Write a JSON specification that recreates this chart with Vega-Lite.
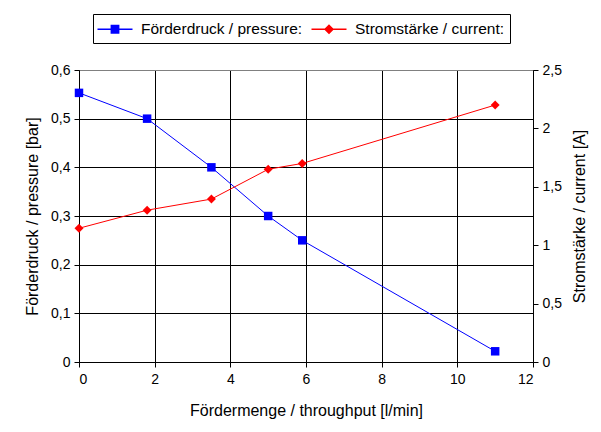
{
  "$schema": "https://vega.github.io/schema/vega-lite/v6.json",
  "width": 454,
  "height": 292,
  "autosize": {"type": "none"},
  "padding": {"left": 79, "top": 70, "right": 68, "bottom": 70},
  "background": "white",
  "config": {
    "font": "Liberation Sans",
    "view": {"stroke": "#808080", "strokeWidth": 1},
    "axis": {
      "labelFont": "Liberation Sans",
      "titleFont": "Liberation Sans",
      "labelFontSize": 14,
      "titleFontSize": 16,
      "titleFontWeight": "normal",
      "labelColor": "black",
      "titleColor": "black",
      "domainColor": "black",
      "tickColor": "black",
      "tickSize": 5,
      "gridColor": "black",
      "gridOpacity": 1,
      "gridWidth": 1
    },
    "legend": {
      "labelFont": "Liberation Sans",
      "labelFontSize": 15.5,
      "labelColor": "black",
      "labelLimit": 400
    }
  },
  "datasets": {
    "pressure": [
      {"throughput": 0, "pressure": 0.553},
      {"throughput": 1.8, "pressure": 0.5},
      {"throughput": 3.5, "pressure": 0.4},
      {"throughput": 5, "pressure": 0.3},
      {"throughput": 5.9, "pressure": 0.25},
      {"throughput": 11, "pressure": 0.022}
    ],
    "current": [
      {"throughput": 0, "current": 1.145},
      {"throughput": 1.8, "current": 1.3},
      {"throughput": 3.5, "current": 1.395},
      {"throughput": 5, "current": 1.65},
      {"throughput": 5.9, "current": 1.7},
      {"throughput": 11, "current": 2.2}
    ]
  },
  "layer": [
    {
      "data": {"name": "pressure"},
      "mark": {"type": "line", "strokeWidth": 1, "point": {"shape": "square", "size": 72, "filled": true, "opacity": 1}},
      "encoding": {
        "x": {
          "field": "throughput", "type": "quantitative",
          "scale": {"domain": [0, 12], "nice": false},
          "axis": {
            "values": [0, 2, 4, 6, 8, 10, 12],
            "title": "Fördermenge / throughput [l/min]",
            "labelPadding": 5,
            "titlePadding": 16,
            "grid": true
          }
        },
        "y": {
          "field": "pressure", "type": "quantitative",
          "scale": {"domain": [0, 0.6], "nice": false},
          "axis": {
            "values": [0, 0.1, 0.2, 0.3, 0.4, 0.5, 0.6],
            "labelExpr": "replace(format(datum.value, '~g'), '.', ',')",
            "title": "Förderdruck / pressure [bar]",
            "labelPadding": 4,
            "titlePadding": 10,
            "grid": true,
            "gridColor": {"condition": {"test": "datum.value >= 0.6", "value": "#808080"}, "value": "black"}
          }
        },
        "color": {
          "datum": "Förderdruck / pressure:",
          "type": "nominal",
          "scale": {"domain": ["Förderdruck / pressure:", "Stromstärke / current:"], "range": ["#0000FF", "#FF0000"]},
          "legend": {
            "title": null,
            "orient": "none",
            "direction": "horizontal",
            "legendX": 14,
            "legendY": -56,
            "strokeColor": "black",
            "fillColor": "white",
            "padding": 5,
            "columnPadding": 8,
            "labelOffset": 16,
            "symbolOffset": 7,
            "symbolSize": 400,
            "symbolType": "M-1.75,-0.07H1.75V0.07H-1.75Z",
            "symbolStrokeWidth": 0,
            "encode": {
              "symbols": {
                "update": {
                  "shape": {"signal": "datum.value === 'Förderdruck / pressure:' ? 'M-1.75,-0.07H1.75V0.07H-1.75ZM-0.44,-0.44H0.44V0.44H-0.44Z' : 'M-1.75,-0.07H1.75V0.07H-1.75ZM0,-0.5L0.5,0L0,0.5L-0.5,0Z'"},
                  "fill": {"signal": "datum.value === 'Förderdruck / pressure:' ? '#0000FF' : '#FF0000'"},
                  "strokeWidth": {"value": 0},
                  "opacity": {"value": 1},
                  "fillOpacity": {"value": 1}
                }
              }
            }
          }
        }
      }
    },
    {
      "data": {"name": "current"},
      "mark": {"type": "line", "strokeWidth": 1, "point": {"shape": "diamond", "size": 80, "filled": true, "opacity": 1}},
      "encoding": {
        "x": {"field": "throughput", "type": "quantitative"},
        "y": {
          "field": "current", "type": "quantitative",
          "scale": {"domain": [0, 2.5], "nice": false},
          "axis": {
            "orient": "right",
            "values": [0, 0.5, 1, 1.5, 2, 2.5],
            "labelExpr": "replace(format(datum.value, '~g'), '.', ',')",
            "title": "Stromstärke / current [A]",
            "titleAngle": 270,
            "labelPadding": 4,
            "titlePadding": 26,
            "grid": false
          }
        },
        "color": {"datum": "Stromstärke / current:", "type": "nominal"}
      }
    }
  ],
  "resolve": {"scale": {"y": "independent"}}
}
